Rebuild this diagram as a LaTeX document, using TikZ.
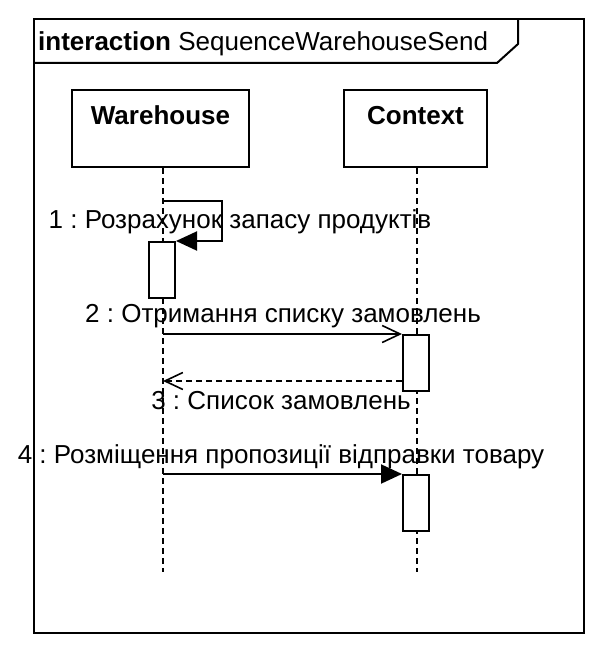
\documentclass[tikz,border=0pt]{standalone}
\usepackage{fontspec}
\setmainfont{Liberation Sans}
\usetikzlibrary{arrows.meta,positioning,calc}
\frenchspacing

\tikzset{
  head/.style={draw, line width=2pt, fill=white, minimum width=177pt, minimum height=77pt},
  act/.style={draw, line width=2pt, fill=white, minimum width=26pt, minimum height=56pt, anchor=north west},
  lifeline/.style={line width=1.6pt, dash pattern=on 6pt off 4pt},
  call/.style={line width=2pt, -{Triangle[length=21pt,width=19pt]}},
  send/.style={line width=2pt, -{Straight Barb[length=18pt,width=17pt,line width=1.6pt]}},
  reply/.style={line width=1.6pt, dash pattern=on 6pt off 4pt, -{Straight Barb[length=18pt,width=17pt,line width=1.6pt]}},
  lbl/.style={anchor=base, inner sep=0pt}
}

\begin{document}
\begin{tikzpicture}[x=1pt, y=-1pt, every node/.style={font=\fontsize{26}{31}\selectfont}]
  \useasboundingbox (0,0) rectangle (611,661);
  % Define dimensions
  \def\xw{163}
  \def\xc{417}
  \def\yend{572}

  % Draw frame
  \draw[line width=2pt] (34,19) rectangle (584,633);
  \draw[line width=2pt] (34,63) -- (497,63) -- (518,44) -- (518,19);
  \node[anchor=base west, inner sep=0pt] (hdr) at (38,51) {\textbf{interaction} SequenceWarehouseSend};

  % Define points
  \coordinate (whEnd) at (\xw,\yend);
  \coordinate (ctxEnd) at (\xc,\yend);
  \coordinate (selfStart) at (\xw,201);
  \coordinate (selfTurn) at (222,241);
  \coordinate (m2Start) at (\xw,334);
  \coordinate (m3End) at (\xw,381);
  \coordinate (m4Start) at (\xw,474);

  % Draw heads
  \node[head] (wh) at (160.5,128.5) {};
  \node[head, minimum width=143pt] (ctx) at (415.5,128.5) {};
  \node[lbl, font=\fontsize{26}{31}\selectfont\bfseries] (whLbl) at (wh.center |- 0,124) {Warehouse};
  \node[lbl, font=\fontsize{26}{31}\selectfont\bfseries] (ctxLbl) at (ctx.center |- 0,124) {Context};

  % Draw lifelines
  \draw[lifeline] (wh.south -| whEnd) -- (whEnd);
  \draw[lifeline] (ctx.south -| ctxEnd) -- (ctxEnd);

  % Draw activations
  \node[act] (act1) at (148,241) {};
  \node[act] (act2) at (402,334) {};
  \node[act] (act3) at (402,474) {};

  % Messages
  \draw[call] (selfStart) -| (selfTurn) -- (act1.north east);
  \draw[send] (m2Start) -- (act2.north west);
  \draw[reply] (act2.west |- m3End) -- (m3End);
  \draw[call] (m4Start) -- (act3.north west);

  % Label messages
  \node[lbl] (lbl1) at (240,228) {1 : Розрахунок запасу продуктів};
  \node[lbl] (lbl2) at (283,322) {2 : Отримання списку замовлень};
  \node[lbl] (lbl3) at (281,409) {3 : Список замовлень};
  \node[lbl] (lbl4) at (281,463) {4 : Розміщення пропозиції відправки товару};
\end{tikzpicture}
\end{document}
